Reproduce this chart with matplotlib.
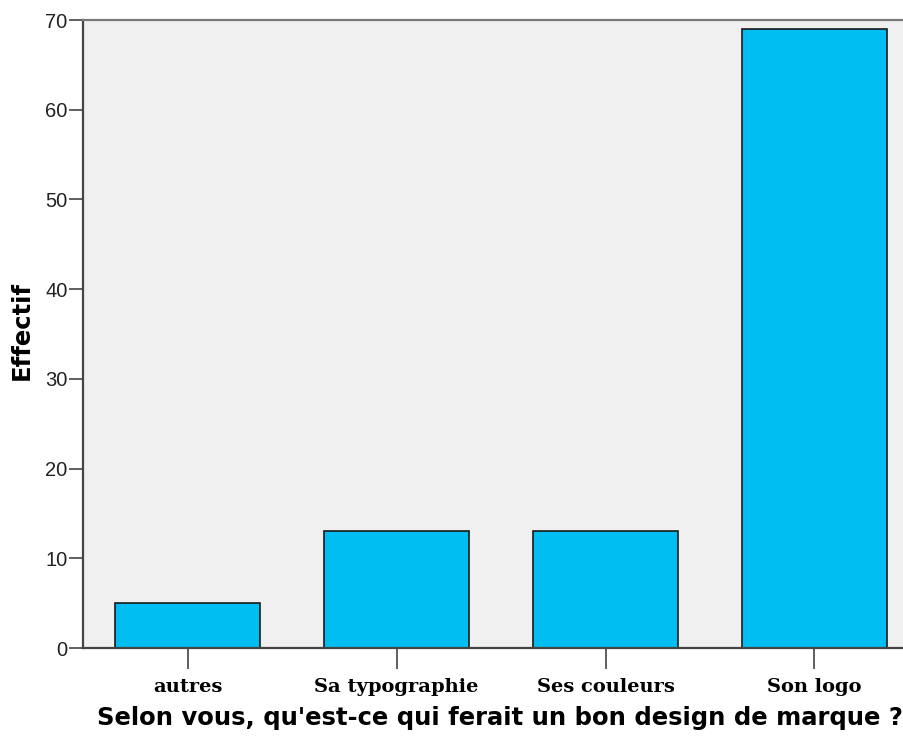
import matplotlib
matplotlib.use('Agg')
import matplotlib.pyplot as plt
import numpy as np

categories = ['autres', 'Sa typographie', 'Ses couleurs', 'Son logo']
counts = [5, 13, 13, 69]
y_ticks = [0, 10, 20, 30, 40, 50, 60, 70]

fig = plt.figure(figsize=(9.04, 7.38), dpi=100)
ax = fig.add_axes([83 / 904, 1 - 648 / 738, 836 / 904, 628 / 738])
ax.set_facecolor('#f0f0f0')

x = np.arange(len(categories))
ax.bar(x, counts, width=0.694, color='#00bef2', edgecolor='#1a1a1a', linewidth=1.2, zorder=2)

ax.set_xlim(-0.5, 3.5)
ax.set_ylim(0, 70)
ax.set_yticks(y_ticks)
ax.set_xticks(x)
ax.set_xticklabels(categories, family='DejaVu Serif', fontweight='bold', fontsize=14)
ax.tick_params(axis='x', length=15, width=1.2, color='#444444', pad=6.5)
ax.tick_params(axis='y', length=10, width=1.2, color='#444444', pad=1, labelsize=14.5)
for lbl in ax.get_yticklabels():
    lbl.set_family('Liberation Sans')
    lbl.set_color('#222222')

ax.spines['right'].set_visible(False)
ax.spines['left'].set_color('#444444')
ax.spines['left'].set_linewidth(1.6)
ax.spines['bottom'].set_color('#444444')
ax.spines['bottom'].set_linewidth(1.6)
ax.spines['top'].set_color('#7a7a7a')
ax.spines['top'].set_linewidth(1.6)

ax.set_ylabel('Effectif', family='DejaVu Sans', fontweight='bold', fontsize=17.5)
ax.yaxis.set_label_coords(-0.059, 0.505)
ax.set_xlabel("Selon vous, qu'est-ce qui ferait un bon design de marque ?",
              family='DejaVu Sans', fontweight='bold', fontsize=17.5)
ax.xaxis.set_label_coords(0.4988, -0.093)

fig.savefig('out.png', dpi=100)
